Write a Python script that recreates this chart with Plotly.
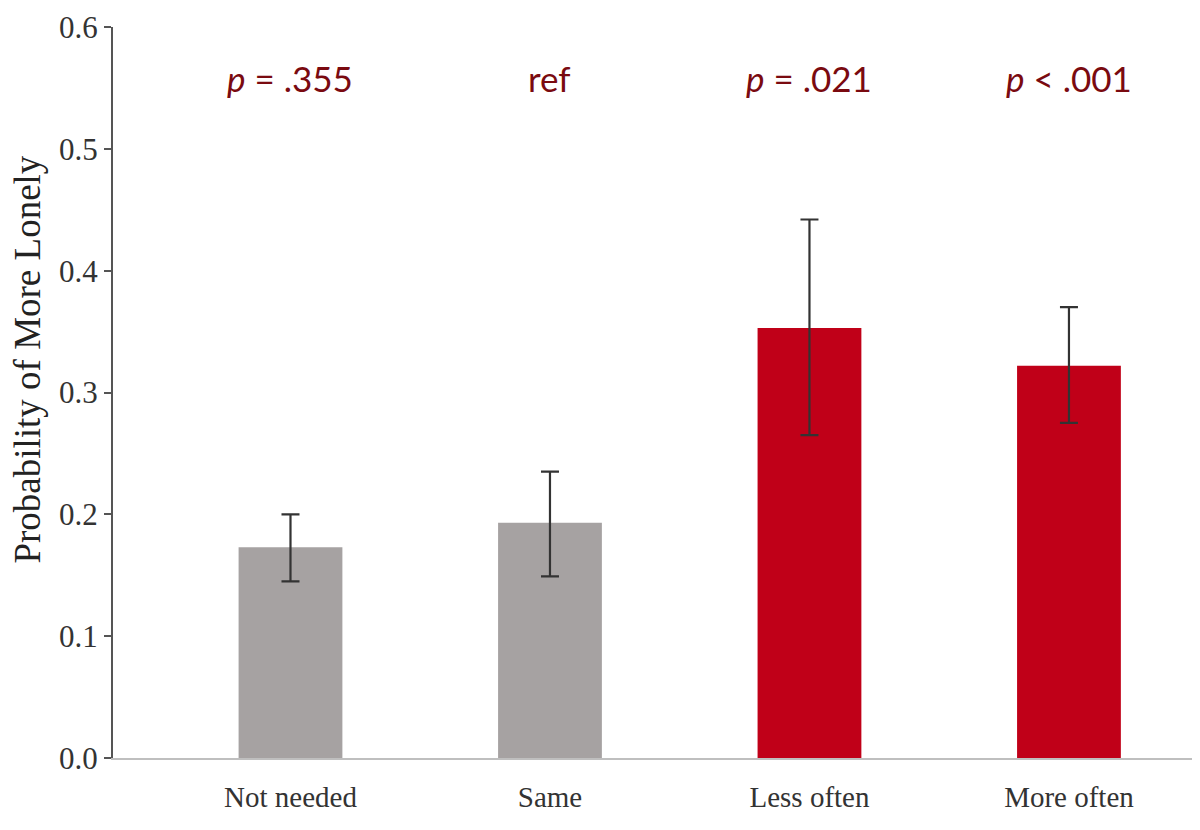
import plotly.graph_objects as go

categories = ["Not needed", "Same", "Less often", "More often"]
values = [0.173, 0.193, 0.353, 0.322]
err_upper = [0.200, 0.235, 0.442, 0.370]
err_lower = [0.145, 0.149, 0.265, 0.275]
p_labels = ["<i>p</i> = .355", "ref", "<i>p</i> = .021", "<i>p</i> < .001"]
bar_colors = ["#A6A2A2", "#A6A2A2", "#C00018", "#C00018"]
y_ticks = [0.0, 0.1, 0.2, 0.3, 0.4, 0.5, 0.6]

err_plus = [u - v for u, v in zip(err_upper, values)]
err_minus = [v - l for v, l in zip(values, err_lower)]

fig = go.Figure()
fig.add_trace(go.Bar(
    x=list(range(len(categories))),
    y=values,
    marker=dict(color=bar_colors, line=dict(width=0)),
    error_y=dict(type="data", symmetric=False, array=err_plus, arrayminus=err_minus,
                 color="#333333", thickness=2.2, width=9),
    width=0.4,
))

for i, lab in enumerate(p_labels):
    fig.add_annotation(x=i, y=0.558, text=lab, showarrow=False,
                       font=dict(family="Lato, Liberation Sans, sans-serif", size=35, color="#7A0A10"),
                       xref="x", yref="y")

fig.add_annotation(x=-0.0787, y=0.545, xref="paper", yref="paper",
                   text="Probability of More Lonely", textangle=-90, showarrow=False,
                   xanchor="center", yanchor="middle",
                   font=dict(family="Liberation Serif, Times New Roman, serif", size=37, color="#222222"))

fig.update_layout(
    width=1200, height=830,
    margin=dict(l=105, r=15, t=19, b=80, autoexpand=False),
    paper_bgcolor="white", plot_bgcolor="white",
    showlegend=False,
    font=dict(family="Liberation Serif, Times New Roman, serif", color="#333333"),
)
fig.update_xaxes(
    range=[-0.684, 3.478],
    tickmode="array", tickvals=list(range(len(categories))), ticktext=categories,
    tickfont=dict(size=29, color="#333333"),
    ticklabelstandoff=12,
    automargin=False,
    showline=True, linecolor="#BFBFBF", linewidth=2,
    ticks="", showgrid=False, zeroline=False,
)
fig.update_yaxes(
    range=[0, 0.6],
    tickmode="array", tickvals=y_ticks, ticktext=[f"{t:.1f}" for t in y_ticks],
    tickfont=dict(size=31, color="#333333"),
    ticklabeloverflow="allow",
    automargin=False,
    showline=True, linecolor="#555555", linewidth=2,
    ticks="outside", ticklen=7, tickcolor="#555555", tickwidth=2,
    showgrid=False, zeroline=False,
)

fig.write_html("out.html")
